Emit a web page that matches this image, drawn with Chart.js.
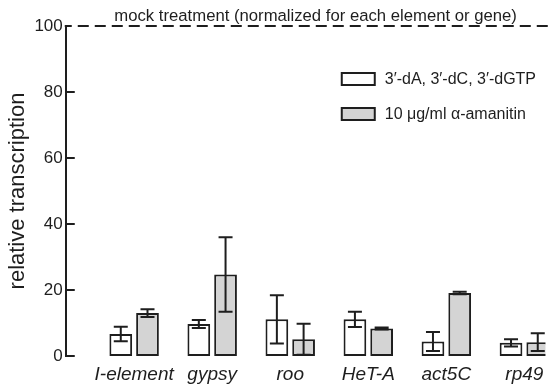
<!DOCTYPE html>
<html>
<head>
<meta charset="utf-8">
<script src="https://cdn.jsdelivr.net/npm/chart.js@4/dist/chart.umd.min.js"></script>
<style>
  html, body { margin: 0; padding: 0; background: #fff; }
  #wrap { width: 551px; height: 385px; }
</style>
</head>
<body>
<div id="wrap"><canvas id="c" width="551" height="385"></canvas></div>
<script>
const categories = ['I-element', 'gypsy', 'roo', 'HeT-A', 'act5C', 'rp49'];
const nucleosideValues = [6.7, 9.7, 11.1, 11.1, 4.4, 4.0];
const nucleosideErrors = [2.2, 1.2, 7.3, 2.3, 2.9, 1.1];
const amanitinValues = [13.0, 24.7, 5.1, 8.3, 19.1, 4.2];
const amanitinErrors = [1.2, 11.3, 4.7, 0.3, 0.4, 2.7];
const yTicks = [0, 20, 40, 60, 80, 100];
const mockLevel = 100;
const seriesNames = ['3\u2032-dA, 3\u2032-dC, 3\u2032-dGTP', '10 \u03bcg/ml \u03b1-amanitin'];
const titleText = 'mock treatment (normalized for each element or gene)';

const FONT = '"Liberation Sans", Arial, Helvetica, sans-serif';
const INK = '#1e1e1e';

const errorSets = [nucleosideErrors, amanitinErrors];

const extrasPlugin = {
  id: 'extras',
  afterDatasetsDraw(chart) {
    const ctx = chart.ctx;
    const y = chart.scales.y;
    ctx.save();
    ctx.strokeStyle = INK;
    ctx.lineWidth = 2;
    chart.data.datasets.forEach((ds, di) => {
      const meta = chart.getDatasetMeta(di);
      meta.data.forEach((bar, i) => {
        const v = ds.data[i].y;
        const e = errorSets[di][i];
        const yt = y.getPixelForValue(v + e);
        const yb = y.getPixelForValue(Math.max(0, v - e));
        const x = bar.x;
        const cap = 7;
        ctx.beginPath();
        ctx.moveTo(x, yt); ctx.lineTo(x, yb);
        ctx.moveTo(x - cap, yt); ctx.lineTo(x + cap, yt);
        ctx.moveTo(x - cap, yb); ctx.lineTo(x + cap, yb);
        ctx.stroke();
      });
    });
    ctx.restore();
  },
  afterDraw(chart) {
    const ctx = chart.ctx;
    const area = chart.chartArea;
    const y = chart.scales.y;
    ctx.save();
    // inward ticks
    ctx.strokeStyle = INK;
    ctx.lineWidth = 2;
    yTicks.forEach(t => {
      if (t === mockLevel) return;
      const py = Math.round(y.getPixelForValue(t));
      ctx.beginPath();
      ctx.moveTo(area.left, py);
      ctx.lineTo(area.left + 9, py);
      ctx.stroke();
    });
    // dashed mock line
    const my = Math.round(y.getPixelForValue(mockLevel));
    ctx.beginPath();
    ctx.moveTo(area.left - 1, my);
    ctx.lineTo(area.left + 6, my);
    ctx.stroke();
    ctx.setLineDash([11, 6]);
    ctx.beginPath();
    ctx.moveTo(area.left + 12, my);
    ctx.lineTo(chart.width, my);
    ctx.stroke();
    ctx.setLineDash([]);
    // title
    ctx.fillStyle = INK;
    ctx.font = '16.7px ' + FONT;
    ctx.textAlign = 'center';
    ctx.textBaseline = 'alphabetic';
    ctx.fillText(titleText, (area.left + area.right) / 2 + 10, my - 5);
    // legend
    ctx.font = '16px ' + FONT;
    ctx.textAlign = 'left';
    ctx.textBaseline = 'middle';
    const lx = area.left + 276;
    const rows = [79, 114];
    chart.data.datasets.forEach((ds, di) => {
      const cy = rows[di];
      ctx.fillStyle = ds.backgroundColor;
      ctx.fillRect(lx, cy - 6, 33, 12);
      ctx.lineWidth = 2;
      ctx.strokeStyle = INK;
      ctx.strokeRect(lx, cy - 6, 33, 12);
      ctx.fillStyle = INK;
      ctx.fillText(ds.label, lx + 43, cy + 1);
    });
    ctx.restore();
  }
};

const makeData = (vals) => vals.map((v, i) => ({ x: i, y: v }));

new Chart(document.getElementById('c'), {
  type: 'bar',
  data: {
    datasets: [
      { label: seriesNames[0], data: makeData(nucleosideValues), backgroundColor: '#ffffff',
        borderColor: INK, borderWidth: 2, borderSkipped: false },
      { label: seriesNames[1], data: makeData(amanitinValues), backgroundColor: '#d4d4d4',
        borderColor: INK, borderWidth: 2, borderSkipped: false }
    ]
  },
  options: {
    responsive: false,
    animation: false,
    devicePixelRatio: 1,
    layout: { padding: { top: 26, right: 0, left: 0, bottom: 0 } },
    categoryPercentage: 0.685,
    barPercentage: 0.85,
    plugins: { legend: { display: false }, tooltip: { enabled: false }, title: { display: false } },
    scales: {
      x: {
        type: 'linear',
        offset: false,
        min: -0.876,
        max: 5.27,
        afterBuildTicks: (s) => { s.ticks = categories.map((_, i) => ({ value: i })); },
        afterFit: (s) => { s.height = 29; },
        ticks: {
          callback: (v) => categories[v] ?? '',
          font: { family: FONT, size: 19, style: 'italic', lineHeight: 1.2 },
          color: INK,
          padding: 7.6,
          maxRotation: 0,
          autoSkip: false
        },
        grid: { display: false, drawTicks: false },
        border: { display: false }
      },
      y: {
        min: 0,
        max: 100,
        afterBuildTicks: (s) => { s.ticks = yTicks.map(v => ({ value: v })); },
        ticks: { font: { family: FONT, size: 17 }, color: INK, padding: 3 },
        grid: { display: false, drawTicks: false },
        border: { display: true, color: INK, width: 2 },
        title: { display: true, text: 'relative transcription', font: { family: FONT, size: 22 },
                 color: INK, padding: { top: 5, bottom: 0 } }
      }
    }
  },
  plugins: [extrasPlugin]
});
</script>
</body>
</html>
